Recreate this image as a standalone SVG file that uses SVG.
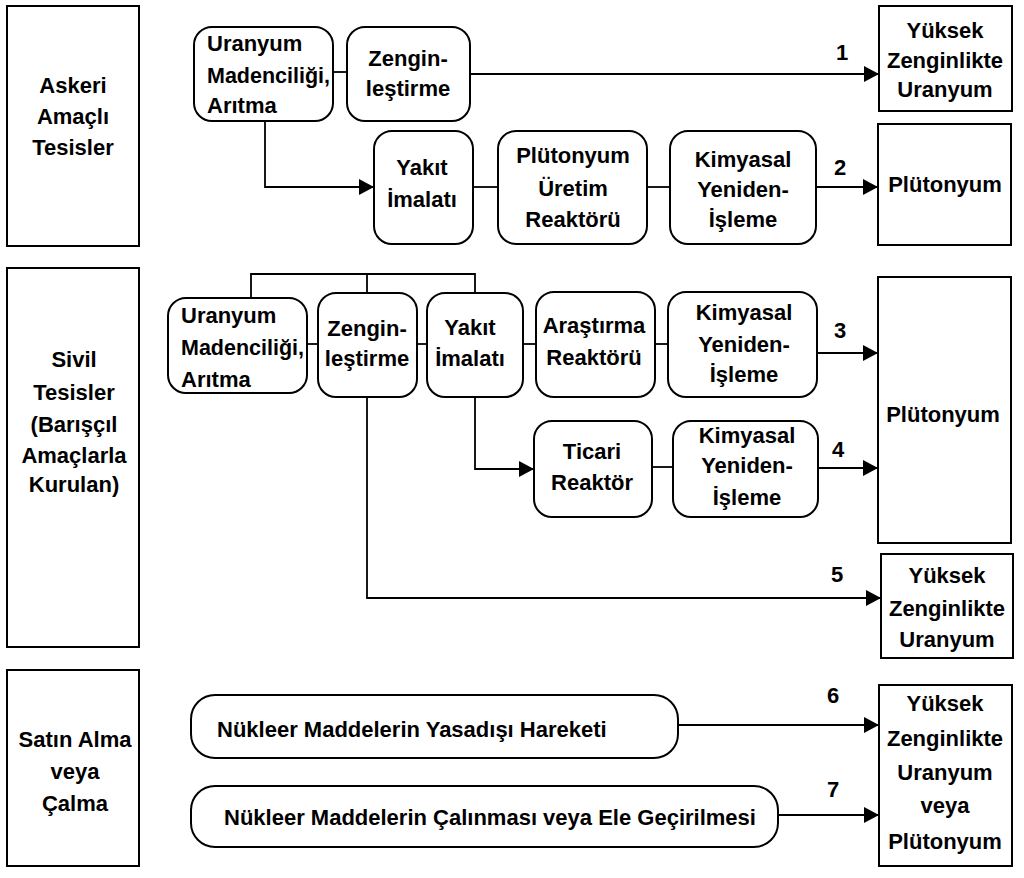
<svg xmlns="http://www.w3.org/2000/svg" width="1024" height="878" viewBox="0 0 1024 878">
<defs>
<marker id="ah" markerUnits="userSpaceOnUse" markerWidth="16" markerHeight="16" refX="15" refY="8" orient="auto">
<path d="M0,0 L15,8 L0,16 Z" fill="#000"/>
</marker>
<style>
.box{fill:#fff;stroke:#000;stroke-width:2}
.rb{fill:#fff;stroke:#000;stroke-width:2}
.ln{fill:none;stroke:#000;stroke-width:1.8}
.ar{fill:none;stroke:#000;stroke-width:1.8;marker-end:url(#ah)}
text{font-family:"Liberation Sans",Arial,sans-serif;font-weight:bold;font-size:22px;fill:#000}
.c{text-anchor:middle}
</style>
</defs>
<rect width="1024" height="878" fill="#fff"/>

<g id="connectors">
<line class="ln" x1="333" y1="72" x2="347" y2="72"/>
<line class="ar" x1="470" y1="74" x2="879" y2="74"/>
<polyline class="ar" points="265,121 265,187 374,187"/>
<line class="ln" x1="473" y1="187" x2="498" y2="187"/>
<line class="ln" x1="647" y1="187" x2="670" y2="187"/>
<line class="ar" x1="816" y1="187" x2="878" y2="187"/>

<polyline class="ln" points="251,298 251,274 475,274 475,293"/>
<line class="ln" x1="367" y1="274" x2="367" y2="293"/>
<line class="ln" x1="307" y1="344" x2="318" y2="344"/>
<line class="ln" x1="417" y1="344" x2="427" y2="344"/>
<line class="ln" x1="523" y1="344" x2="536" y2="344"/>
<line class="ln" x1="655" y1="344" x2="668" y2="344"/>
<line class="ar" x1="817" y1="353" x2="878" y2="353"/>
<polyline class="ar" points="475,397 475,469 534,469"/>
<line class="ln" x1="652" y1="467" x2="673" y2="467"/>
<line class="ar" x1="818" y1="468" x2="878" y2="468"/>
<polyline class="ar" points="367,397 367,598 881,598"/>

<line class="ar" x1="678" y1="725" x2="879" y2="725"/>
<line class="ar" x1="778" y1="815" x2="879" y2="815"/>

<text x="842" y="60" class="c">1</text>
<text x="840" y="175" class="c">2</text>
<text x="840" y="338" class="c">3</text>
<text x="838" y="457" class="c">4</text>
<text x="837" y="582" class="c">5</text>
<text x="833" y="703" class="c">6</text>
<text x="833" y="797" class="c">7</text>
</g>

<g id="askeri">
<rect class="box" x="7" y="6" width="132" height="240"/>
<text class="c" x="73" y="93">Askeri</text>
<text class="c" x="73" y="124">Amaçlı</text>
<text class="c" x="73" y="155">Tesisler</text>
</g>
<g id="uranyum1">
<rect class="rb" x="194" y="27" width="139" height="94" rx="18"/>
<text x="207" y="51">Uranyum</text>
<text x="207" y="83" textLength="123" lengthAdjust="spacingAndGlyphs">Madenciliği,</text>
<text x="207" y="113">Arıtma</text>
</g>
<g id="zengin1">
<rect class="rb" x="347" y="27" width="123" height="94" rx="18"/>
<text class="c" x="408" y="66">Zengin-</text>
<text class="c" x="408" y="96">leştirme</text>
</g>
<g id="yakit1">
<rect class="rb" x="374" y="131" width="99" height="113" rx="18"/>
<text class="c" x="422" y="175">Yakıt</text>
<text class="c" x="422" y="207">İmalatı</text>
</g>
<g id="plutonyumuretim">
<rect class="rb" x="498" y="131" width="149" height="113" rx="18"/>
<text class="c" x="573" y="163">Plütonyum</text>
<text class="c" x="573" y="196">Üretim</text>
<text class="c" x="573" y="227">Reaktörü</text>
</g>
<g id="kimyasal1">
<rect class="rb" x="670" y="131" width="146" height="113" rx="18"/>
<text class="c" x="743" y="167">Kimyasal</text>
<text class="c" x="743" y="197">Yeniden-</text>
<text class="c" x="743" y="227">İşleme</text>
</g>
<g id="yuksek1">
<rect class="box" x="879" y="6" width="133" height="105"/>
<text class="c" x="945" y="38">Yüksek</text>
<text class="c" x="945" y="68">Zenginlikte</text>
<text class="c" x="945" y="97">Uranyum</text>
</g>
<g id="plutonyum1">
<rect class="box" x="878" y="124" width="133" height="121"/>
<text class="c" x="945" y="192">Plütonyum</text>
</g>

<g id="sivil">
<rect class="box" x="7" y="268" width="132" height="379"/>
<text class="c" x="74" y="367">Sivil</text>
<text class="c" x="74" y="400">Tesisler</text>
<text class="c" x="74" y="432">(Barışçıl</text>
<text class="c" x="74" y="463">Amaçlarla</text>
<text class="c" x="74" y="492">Kurulan)</text>
</g>
<g id="uranyum2">
<rect class="rb" x="168" y="298" width="139" height="95" rx="18"/>
<text x="181" y="323">Uranyum</text>
<text x="181" y="355" textLength="123" lengthAdjust="spacingAndGlyphs">Madenciliği,</text>
<text x="181" y="387">Arıtma</text>
</g>
<g id="zengin2">
<rect class="rb" x="318" y="293" width="99" height="104" rx="18"/>
<text class="c" x="367" y="336">Zengin-</text>
<text class="c" x="367" y="366">leştirme</text>
</g>
<g id="yakit2">
<rect class="rb" x="427" y="293" width="96" height="104" rx="18"/>
<text class="c" x="470" y="335">Yakıt</text>
<text class="c" x="470" y="366">İmalatı</text>
</g>
<g id="arastirma">
<rect class="rb" x="536" y="292" width="119" height="105" rx="18"/>
<text class="c" x="594" y="333">Araştırma</text>
<text class="c" x="594" y="365">Reaktörü</text>
</g>
<g id="kimyasal3">
<rect class="rb" x="668" y="292" width="149" height="105" rx="18"/>
<text class="c" x="744" y="320">Kimyasal</text>
<text class="c" x="744" y="352">Yeniden-</text>
<text class="c" x="744" y="382">İşleme</text>
</g>
<g id="ticari">
<rect class="rb" x="534" y="421" width="118" height="96" rx="18"/>
<text class="c" x="592" y="459">Ticari</text>
<text class="c" x="592" y="490">Reaktör</text>
</g>
<g id="kimyasal4">
<rect class="rb" x="673" y="421" width="145" height="96" rx="18"/>
<text class="c" x="747" y="443">Kimyasal</text>
<text class="c" x="747" y="473">Yeniden-</text>
<text class="c" x="747" y="505">İşleme</text>
</g>
<g id="plutonyum2">
<rect class="box" x="878" y="277" width="133" height="266"/>
<text class="c" x="943" y="422">Plütonyum</text>
</g>
<g id="yuksek5">
<rect class="box" x="881" y="554" width="132" height="104"/>
<text class="c" x="947" y="583">Yüksek</text>
<text class="c" x="947" y="616">Zenginlikte</text>
<text class="c" x="947" y="647">Uranyum</text>
</g>

<g id="satin">
<rect class="box" x="7" y="670" width="132" height="196"/>
<text class="c" x="75" y="747">Satın Alma</text>
<text class="c" x="75" y="779">veya</text>
<text class="c" x="75" y="811">Çalma</text>
</g>
<g id="yasadisi">
<rect class="rb" x="191" y="695" width="487" height="63" rx="24"/>
<text x="217" y="737">Nükleer Maddelerin Yasadışı Hareketi</text>
</g>
<g id="calinmasi">
<rect class="rb" x="191" y="786" width="587" height="61" rx="24"/>
<text x="224" y="825">Nükleer Maddelerin Çalınması veya Ele Geçirilmesi</text>
</g>
<g id="yuksek67">
<rect class="box" x="879" y="685" width="133" height="181"/>
<text class="c" x="945" y="711">Yüksek</text>
<text class="c" x="945" y="746">Zenginlikte</text>
<text class="c" x="945" y="780">Uranyum</text>
<text class="c" x="945" y="813">veya</text>
<text class="c" x="945" y="849">Plütonyum</text>
</g>
</svg>
